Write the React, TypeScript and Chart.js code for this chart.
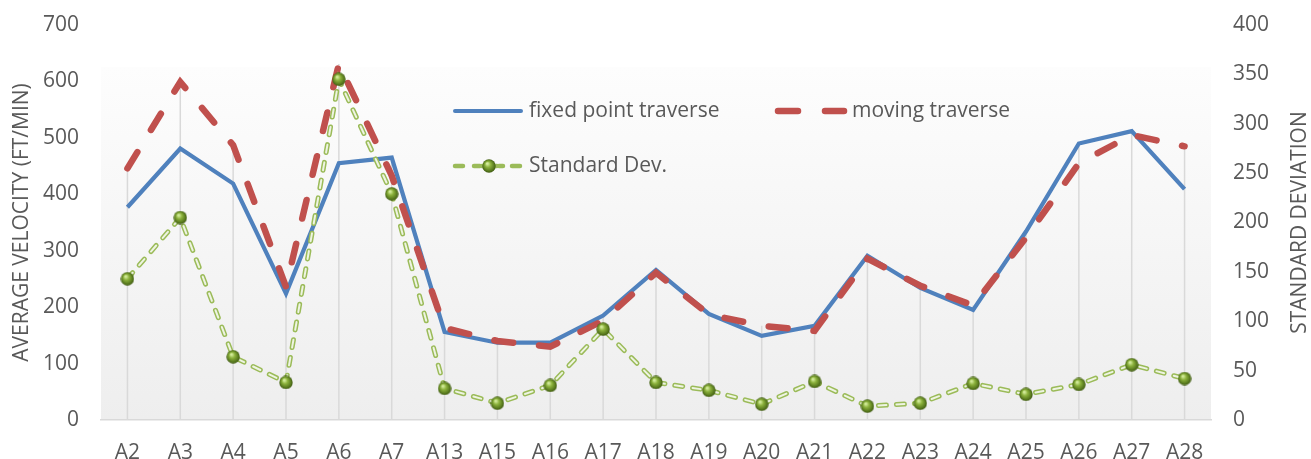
import React, { useEffect, useRef } from "react";
import { Chart, registerables } from "chart.js";

Chart.register(...registerables);

const categories = ["A2","A3","A4","A5","A6","A7","A13","A15","A16","A17","A18","A19","A20","A21","A22","A23","A24","A25","A26","A27","A28"];
const fixedPoint = [377,481,419,224,455,465,156,137,137,185,266,188,149,167,291,234,195,334,490,512,409];
const movingTraverse = [446,599,487,236,631,433,163,140,130,176,261,187,167,158,286,238,203,323,455,505,485];
const stdDev = [143,205,64,38,345,229,32,17,35,92,38,30,16,39,14,17,37,26,36,56,42];

const leftTicks = { min: 0, max: 700, step: 100 };
const rightTicks = { min: 0, max: 400, step: 50 };
const leftTitle = "AVERAGE VELOCITY (FT/MIN)";
const rightTitle = "STANDARD DEVIATION";

const BLUE = "#4f81bd";
const RED = "#c0504d";
const GREEN = "#9bbb59";
const GREEN_IN = "#eef4e2";
const TEXT = "#595959";
const FONT = "'Open Sans', sans-serif";

function makeSphere(size: number): HTMLCanvasElement {
  const c = document.createElement("canvas");
  c.width = size;
  c.height = size;
  const ctx = c.getContext("2d")!;
  const r = size / 2;
  const g = ctx.createRadialGradient(r * 0.75, r * 0.65, r * 0.1, r, r, r);
  g.addColorStop(0, "#d4ec9c");
  g.addColorStop(0.35, "#8cb23c");
  g.addColorStop(0.8, "#55761c");
  g.addColorStop(1, "#3c5510");
  ctx.fillStyle = g;
  ctx.beginPath();
  ctx.arc(r, r, r - 0.3, 0, Math.PI * 2);
  ctx.fill();
  return c;
}

const dropLinesPlugin = {
  id: "dropLines",
  beforeDatasetsDraw(chart: any) {
    const { ctx, chartArea } = chart;
    const n = chart.data.labels.length;
    ctx.save();
    ctx.strokeStyle = "#d9d9d9";
    ctx.lineWidth = 1.5;
    for (let i = 0; i < n; i++) {
      let top = Infinity;
      let x = 0;
      chart.data.datasets.forEach((ds: any, di: number) => {
        const meta = chart.getDatasetMeta(di);
        const el = meta.data[i];
        if (el) {
          top = Math.min(top, el.y);
          x = el.x;
        }
      });
      ctx.beginPath();
      ctx.moveTo(x, top);
      ctx.lineTo(x, chartArea.bottom);
      ctx.stroke();
    }
    ctx.restore();
  },
};

const bgPlugin = {
  id: "plotBg",
  beforeDraw(chart: any) {
    const { ctx, chartArea } = chart;
    ctx.save();
    const top = chartArea.top + 42;
    const g = ctx.createLinearGradient(0, top, 0, chartArea.bottom);
    g.addColorStop(0, "#fdfdfd");
    g.addColorStop(1, "#eeeeee");
    ctx.fillStyle = g;
    ctx.fillRect(chartArea.left, top, chartArea.right - chartArea.left, chartArea.bottom - top);
    ctx.restore();
  },
};

const titlesPlugin = {
  id: "axisTitles",
  afterDraw(chart: any) {
    const { ctx, chartArea } = chart;
    const cy = (chartArea.top + chartArea.bottom) / 2;
    [[22, leftTitle], [1300, rightTitle]].forEach(([x, t]: any) => {
      ctx.save();
      ctx.font = `21px ${FONT}`;
      ctx.fillStyle = TEXT;
      ctx.textAlign = "center";
      ctx.textBaseline = "middle";
      ctx.translate(x, cy);
      ctx.rotate(-Math.PI / 2);
      ctx.fillText(t, 0, 0);
      ctx.restore();
    });
  },
};

function makeLegendPlugin(sphere: HTMLCanvasElement) {
  return {
    id: "customLegend",
    afterDraw(chart: any) {
      const { ctx } = chart;
      ctx.save();
      ctx.font = `21px ${FONT}`;
      ctx.fillStyle = TEXT;
      ctx.textBaseline = "middle";
      ctx.textAlign = "left";
      const y1 = 111;
      const y2 = 166;
      ctx.strokeStyle = BLUE;
      ctx.lineWidth = 4;
      ctx.lineCap = "round";
      ctx.beginPath();
      ctx.moveTo(455, y1);
      ctx.lineTo(521, y1);
      ctx.stroke();
      ctx.fillText(chart.data.datasets[0].label, 529, y1);
      ctx.strokeStyle = RED;
      ctx.lineWidth = 6.5;
      ctx.beginPath();
      ctx.moveTo(778, y1);
      ctx.lineTo(798, y1);
      ctx.moveTo(825, y1);
      ctx.lineTo(844, y1);
      ctx.stroke();
      ctx.fillText(chart.data.datasets[1].label, 852, y1);
      const segs = [[455, 463], [474, 480], [499, 503], [512, 520]];
      ctx.lineWidth = 4.5;
      ctx.strokeStyle = GREEN;
      ctx.beginPath();
      segs.forEach(([a, b]) => { ctx.moveTo(a, y2); ctx.lineTo(b, y2); });
      ctx.moveTo(482, y2);
      ctx.lineTo(497, y2);
      ctx.stroke();
      ctx.drawImage(sphere, 489 - sphere.width / 2, y2 - sphere.height / 2);
      ctx.fillText(chart.data.datasets[2].label, 529, y2);
      ctx.restore();
    },
  };
}

export default function App() {
  const ref = useRef<HTMLCanvasElement | null>(null);
  useEffect(() => {
    if (!ref.current) return;
    const sphere = makeSphere(14);
    const chart = new Chart(ref.current, {
      type: "line",
      data: {
        labels: categories,
        datasets: [
          {
            label: "fixed point traverse",
            data: fixedPoint,
            borderColor: BLUE,
            backgroundColor: BLUE,
            borderWidth: 4.2,
            pointRadius: 0,
            tension: 0,
            yAxisID: "y",
            order: 4,
          },
          {
            label: "moving traverse",
            data: movingTraverse,
            borderColor: RED,
            backgroundColor: RED,
            borderWidth: 6.5,
            borderDash: [19, 26],
            borderCapStyle: "round",
            pointRadius: 0,
            tension: 0,
            yAxisID: "y",
            order: 3,
          },
          {
            label: "Standard Dev.",
            data: stdDev,
            borderColor: GREEN,
            backgroundColor: GREEN,
            borderWidth: 5,
            borderDash: [8, 10],
            borderCapStyle: "round",
            pointRadius: 0,
            tension: 0,
            yAxisID: "y1",
            order: 2,
          },
          {
            label: "Standard Dev. inner",
            data: stdDev,
            borderColor: GREEN_IN,
            borderWidth: 2,
            borderDash: [8, 10],
            borderCapStyle: "round",
            pointRadius: 0,
            tension: 0,
            yAxisID: "y1",
            order: 1,
          },
          {
            label: "Standard Dev. points",
            data: stdDev,
            showLine: false,
            pointStyle: sphere as any,
            pointRadius: 7,
            yAxisID: "y1",
            order: 0,
          },
        ],
      },
      options: {
        responsive: false,
        animation: false,
        layout: { padding: { left: 0, right: 0, top: 25, bottom: 0 } },
        plugins: {
          legend: { display: false },
          tooltip: { enabled: false },
        },
        scales: {
          x: {
            offset: true,
            grid: { display: false, drawTicks: false },
            border: { display: true, color: "#d9d9d9", width: 1.5 },
            ticks: { color: TEXT, font: { family: FONT, size: 21 }, padding: 20, maxRotation: 0, autoSkip: false },
            afterFit(scale: any) { scale.height = 39; scale.paddingLeft = 0; scale.paddingRight = 0; },
          },
          y: {
            position: "left",
            min: leftTicks.min,
            max: leftTicks.max,
            ticks: { stepSize: leftTicks.step, color: TEXT, font: { family: FONT, size: 21 }, padding: 22 },
            grid: { display: false, drawTicks: false },
            border: { display: false },
            afterFit(scale: any) { scale.width = 101; scale.paddingTop = 0; scale.paddingBottom = 0; },
          },
          y1: {
            position: "right",
            min: rightTicks.min,
            max: rightTicks.max,
            ticks: { stepSize: rightTicks.step, color: TEXT, font: { family: FONT, size: 21 }, padding: 22 },
            grid: { display: false, drawTicks: false },
            border: { display: false },
            afterFit(scale: any) { scale.width = 100; scale.paddingTop = 0; scale.paddingBottom = 0; },
          },
        },
      },
      plugins: [bgPlugin, dropLinesPlugin, titlesPlugin, makeLegendPlugin(sphere)],
    });
    return () => chart.destroy();
  }, []);
  return (
    <div style={{ position: "absolute", left: 0, top: 0, width: 1311, height: 459, background: "#fff" }}>
      <canvas ref={ref} width={1311} height={459} style={{ display: "block" }} />
    </div>
  );
}
